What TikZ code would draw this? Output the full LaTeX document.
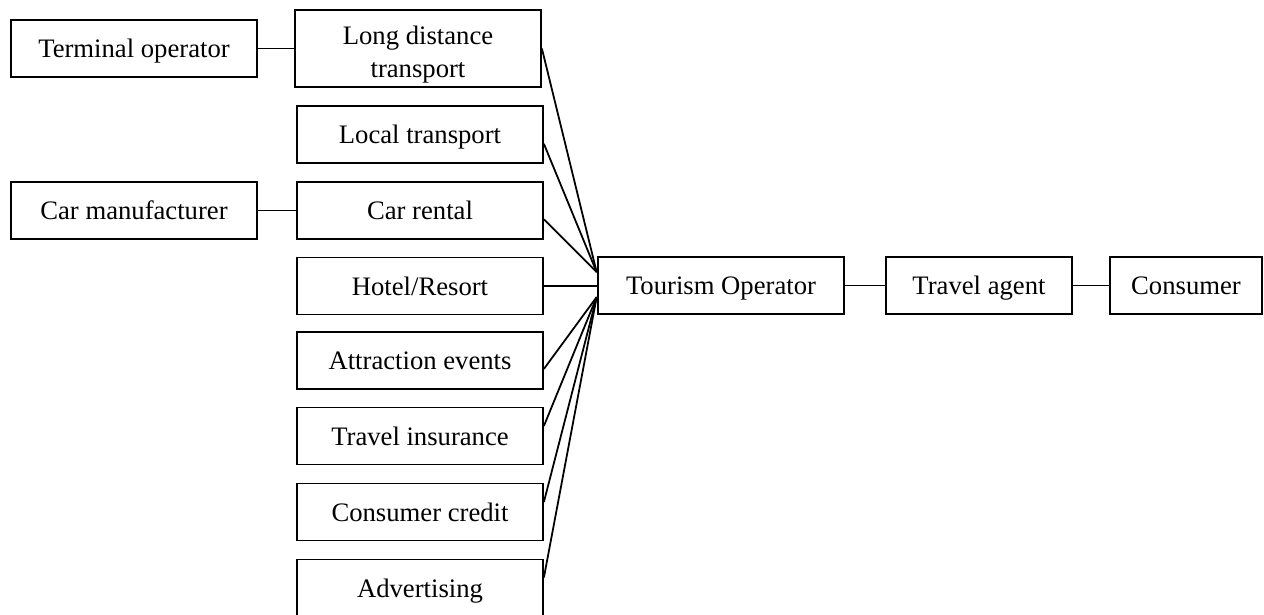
\documentclass[tikz,border=0pt]{standalone}
\usepackage{fontspec}
\setmainfont{Liberation Serif}

\begin{document}
\begin{tikzpicture}[x=0.45pt,y=-0.45pt,line width=0.8pt,
      every node/.style={inner sep=0pt,font=\fontsize{12}{15}\selectfont},
      box/.style={draw,minimum width=110.7pt,minimum height=25.65pt,align=center,
        text height=11pt,text depth=2.7pt}]
      \clip(0,0)rectangle(1264,615);
      % suppliers
      \node[box](term)at(134,48.5){Terminal operator};
      \node[box](carm)at(134,210.5){Car manufacturer};
      \node[box,minimum height=34.65pt,text height=28.7pt,text depth={}](ld)at(418,48.5){Long distance\\transport};
      \node[box](loc)at(420,134.5){Local transport};
      \node[box](carr)at(420,210.5){Car rental};
      \node[box](hotel)at(420,286){Hotel/Resort};
      \node[box](attr)at(420,360.5){Attraction events};
      \node[box](ins)at(420,436){Travel insurance};
      \node[box](cred)at(420,512){Consumer credit};
      \node[box](adv)at(420,588){Advertising};
      % chain
      \node[box,line width=1.2pt](tour)at(721,285.5){Tourism Operator};
      \node[box,minimum width=83.7pt](agent)at(979,285.5){Travel agent};
      \node[box,minimum width=68.4pt](cons)at(1186,285.5){Consumer};
      \draw(term)--(ld);\draw(carm)--(carr);
      \draw(ld.east)--([yshift=6pt]tour.west);
      \draw([yshift=-4.2pt]loc.east)--([yshift=6pt]tour.west);
      \draw([yshift=-4pt]carr.east)--([yshift=6pt]tour.west);
      \draw(hotel.east)--(hotel.east-|tour.west);
      \draw([yshift=-3.8pt]attr.east)--([yshift=-5.2pt]tour.west);
      \draw([yshift=4.5pt]ins.east)--([yshift=-5.2pt]tour.west);
      \draw([yshift=4.5pt]cred.east)--([yshift=-5.2pt]tour.west);
      \draw([yshift=4.7pt]adv.east)--([yshift=-5.2pt]tour.west);
      \draw(tour)--(agent);\draw(agent)--(cons);
    \end{tikzpicture}
\end{document}
